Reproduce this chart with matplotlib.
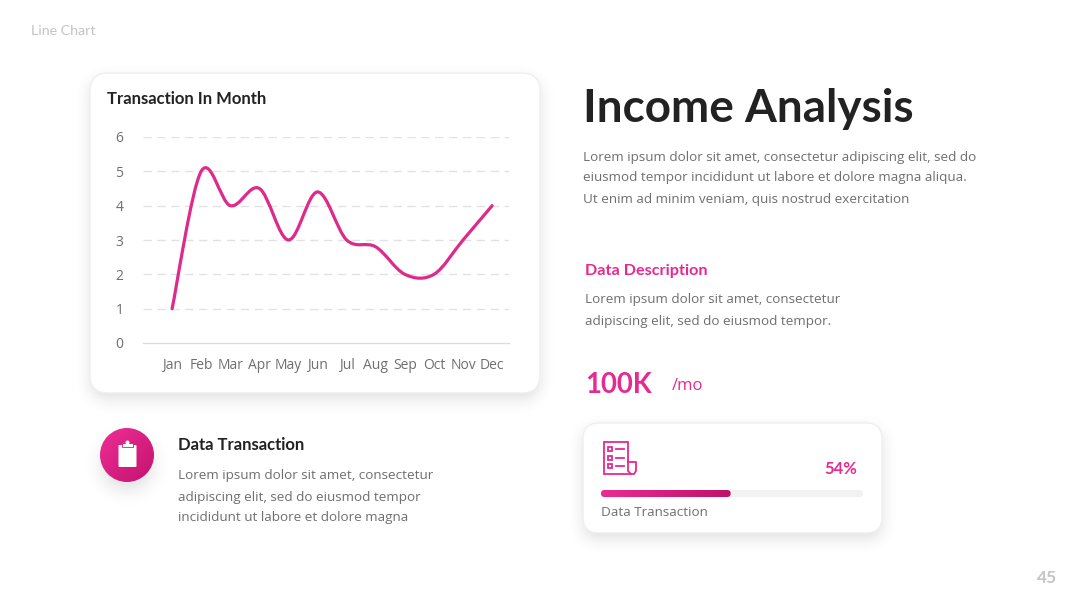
import matplotlib
matplotlib.use('Agg')
import matplotlib.pyplot as plt
import numpy as np
from matplotlib.patches import FancyBboxPatch, Circle, PathPatch, Rectangle
from matplotlib.path import Path

months = ['Jan', 'Feb', 'Mar', 'Apr', 'May', 'Jun', 'Jul', 'Aug', 'Sep', 'Oct', 'Nov', 'Dec']
values = [1, 5, 4, 4.5, 3, 4.4, 3, 2.8, 2, 2, 3, 4]
y_ticks = [0, 1, 2, 3, 4, 5, 6]
progress_label = '54%'
progress_fill = 0.495

PINK = '#e62a8f'
LINE = '#de2a8a'
DARK = '#222222'
GREY = '#6f6f6f'
HEAD = ['Lato', 'DejaVu Sans']

plt.rcParams['font.family'] = ['Open Sans', 'DejaVu Sans']

fig = plt.figure(figsize=(10.8, 6.08), dpi=100)
bg = fig.add_axes([0, 0, 1, 1])
bg.set_xlim(0, 1080)
bg.set_ylim(608, 0)
bg.axis('off')


def shadow(x0, y0, x1, y1, r, spread=26, strength=0.11, drop=6):
    # soft shadow, alpha falls off with the distance from a rounded box
    px = np.arange(x0 - spread, x1 + spread + 1)
    py = np.arange(y0 - spread + drop, y1 + spread + drop + 1)
    xx, yy = np.meshgrid(px, py)
    dx = np.abs(xx - (x0 + x1) / 2) - ((x1 - x0) / 2 - r)
    dy = np.abs(yy - (y0 + y1) / 2 - drop) - ((y1 - y0) / 2 - r)
    dist = np.hypot(np.maximum(dx, 0), np.maximum(dy, 0)) + np.minimum(np.maximum(dx, dy), 0) - r
    a = np.clip(1 - (dist + 6) / spread, 0, 1) ** 2.2 * strength
    img = np.zeros(a.shape + (4,))
    img[..., 3] = a
    bg.imshow(img, extent=(px[0], px[-1], py[-1], py[0]), zorder=1, aspect='auto')
    bg.set_xlim(0, 1080)
    bg.set_ylim(608, 0)


def card(x0, y0, x1, y1, r):
    shadow(x0, y0, x1, y1, r)
    bg.add_patch(FancyBboxPatch((x0 + r, y0 + r), x1 - x0 - 2 * r, y1 - y0 - 2 * r,
                                boxstyle=f'round,pad={r},rounding_size={r}',
                                fc='white', ec='#efefef', lw=1, zorder=2))


def gradient(x0, y0, x1, y1, c0, c1, clip, zorder=3, diagonal=False):
    a = np.array(matplotlib.colors.to_rgb(c0))
    b = np.array(matplotlib.colors.to_rgb(c1))
    xx, yy = np.meshgrid(np.linspace(0, 1, 120), np.linspace(0, 1, 120))
    t = (xx + yy) / 2 if diagonal else xx
    img = a + (b - a) * t[..., None]
    im = bg.imshow(img, extent=(x0, x1, y1, y0), zorder=zorder, aspect='auto')
    im.set_clip_path(clip)
    bg.set_xlim(0, 1080)
    bg.set_ylim(608, 0)


def body(x, y, lines, size=9.7, step=21):
    for i, s in enumerate(lines):
        bg.text(x, y + i * step, s, fontsize=size, color=GREY, va='center', zorder=5)


# header texts
bg.text(31, 31, 'Line Chart', fontsize=10.3, color='#c4c4c4', va='center', family=HEAD)
bg.text(1057, 578, '45', fontsize=12.5, color='#c4c4c4', va='center', ha='right', fontweight='bold',
        family=HEAD)

card(90, 73, 540, 393, 18)
bg.text(107, 98.5, 'Transaction In Month', fontsize=12, color=DARK, va='center',
        fontweight='bold', zorder=5, family=HEAD)

# line chart
ax = fig.add_axes([143 / 1080, 1 - 343 / 608, 366 / 1080, 206 / 608], zorder=3)
ax.patch.set_alpha(0)
x = np.arange(len(months))
ax.set_xlim(-1, 11.58)
ax.set_ylim(0, 6)
ax.set_xticks(x)
ax.set_xticklabels(months)
ax.set_yticks(y_ticks)
ax.tick_params(length=0, labelsize=10, labelcolor=GREY)
ax.tick_params(axis='x', pad=11)
ax.tick_params(axis='y', pad=14)
for side in ['top', 'right', 'left']:
    ax.spines[side].set_visible(False)
ax.spines['bottom'].set_color('#dcdcdc')
ax.spines['bottom'].set_linewidth(1)
for t in y_ticks[1:]:
    ax.axhline(t, color='#e2e2e6', lw=1, dashes=(6, 4), zorder=1)

# smoothed line, bezier handles taken from neighbouring values
pts = np.column_stack([x, values]).astype(float)
verts = [pts[0]]
codes = [Path.MOVETO]
for i in range(len(pts) - 1):
    prev = pts[max(i - 1, 0)]
    nxt = pts[min(i + 2, len(pts) - 1)]
    verts += [pts[i] + (pts[i + 1] - prev) / 6, pts[i + 1] - (nxt - pts[i]) / 6, pts[i + 1]]
    codes += [Path.CURVE4] * 3
ax.add_patch(PathPatch(Path(verts, codes), fc='none', ec=LINE, lw=2.3, capstyle='round', zorder=3))

# right column
bg.text(583, 109, 'Income Analysis', fontsize=33, color=DARK, va='center', fontweight='bold', family=HEAD)
body(583, 157, ['Lorem ipsum dolor sit amet, consectetur adipiscing elit, sed do',
                'eiusmod tempor incididunt ut labore et dolore magna aliqua.',
                'Ut enim ad minim veniam, quis nostrud exercitation'])
bg.text(585, 271, 'Data Description', fontsize=11.7, color=PINK, va='center', fontweight='bold', family=HEAD)
body(585, 300, ['Lorem ipsum dolor sit amet, consectetur',
                'adipiscing elit, sed do eiusmod tempor.'])
bg.text(585, 385, '100K', fontsize=19.8, color=PINK, va='center', fontweight='bold', family=HEAD)
bg.text(672, 386, '/mo', fontsize=12, color=PINK, va='center')

# progress card
card(583, 423, 882, 533, 16)
bg.text(857, 469, progress_label, fontsize=12, color=PINK, va='center', ha='right',
        fontweight='bold', zorder=5, family=HEAD)
track = FancyBboxPatch((601, 490), 262, 7, boxstyle='round,pad=0,rounding_size=3.5',
                       fc='#f2f2f2', ec='none', zorder=3)
bg.add_patch(track)
fill_x = 601 + 262 * progress_fill
fill = FancyBboxPatch((601, 490), fill_x - 601, 7, boxstyle='round,pad=0,rounding_size=3.5',
                      fc='none', ec='none', zorder=4)
bg.add_patch(fill)
gradient(601, 490, fill_x, 497, '#ea2c92', '#bd126c', fill, zorder=4)
bg.text(601, 513, 'Data Transaction', fontsize=9.7, color=GREY, va='center', zorder=5)

# list icon
ic = dict(fc='none', ec=PINK, lw=1.3, zorder=5)
bg.plot([628, 628, 604, 604, 631], [461, 442, 442, 474, 474], color=PINK, lw=1.3, zorder=5,
        solid_joinstyle='miter')
bg.plot([628, 636, 636, 634, 631, 628, 628], [462, 462, 471, 474, 474, 471, 461], color=PINK,
        lw=1.3, zorder=5)
for yy in [449, 457.5, 466]:
    bg.add_patch(Rectangle((608, yy - 2), 4, 4, **ic))
    bg.plot([616, 624], [yy, yy], color=PINK, lw=1.3, zorder=5)

# round badge
shadow(100, 428, 154, 482, 27, spread=28, strength=0.09, drop=9)
badge = Circle((127, 455), 27, fc='none', ec='none', zorder=3)
bg.add_patch(badge)
gradient(100, 428, 154, 482, '#ee2e95', '#c3136f', badge, diagonal=True)
bg.add_patch(FancyBboxPatch((118.5, 445), 18, 22, boxstyle='round,pad=0,rounding_size=1',
                            fc='white', ec='none', zorder=5))
bg.add_patch(Rectangle((122, 443), 11, 4, fc='white', ec='#d41f80', lw=0.6, zorder=6))
bg.add_patch(Circle((127.5, 442.5), 2, fc='white', ec='none', zorder=7))

bg.text(178, 444.5, 'Data Transaction', fontsize=12, color=DARK, va='center', fontweight='bold', family=HEAD)
body(178, 476, ['Lorem ipsum dolor sit amet, consectetur',
                'adipiscing elit, sed do eiusmod tempor',
                'incididunt ut labore et dolore magna'])

fig.savefig('out.png', dpi=100, facecolor='white')
